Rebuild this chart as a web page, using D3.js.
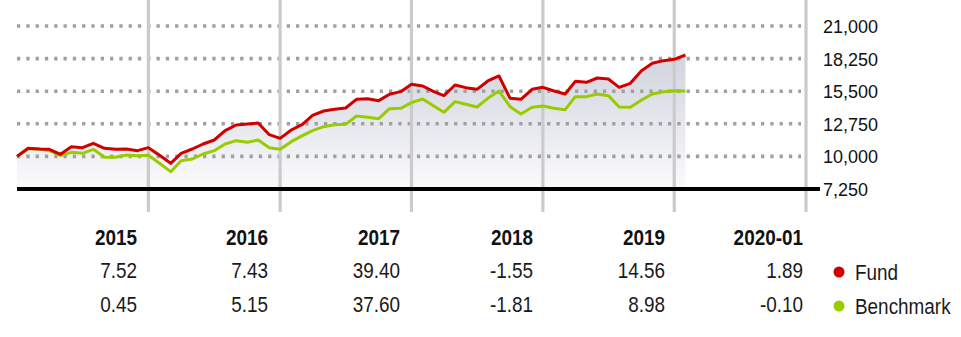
<!DOCTYPE html>
<html>
<head>
<meta charset="utf-8">
<script src="https://cdn.jsdelivr.net/npm/d3@7"></script>
<style>
  html, body { margin: 0; padding: 0; background: #fff; }
  svg { display: block; }
</style>
</head>
<body>
<svg id="chart" width="961" height="337"></svg>
<script>
// ---- data ----
const startYear = 2014, startMonth = 11; // Dec 2014, monthly points
const fundValues = [10000,10681,10624,10596,10175,10821,10737,11103,10681,10596,10624,10484,10737,
  10090,9415,10259,10624,11046,11384,12171,12649,12733,12818,11833,11524,
  12227,12705,13465,13830,13971,14083,14814,14870,14702,15236,15461,16080,
  15939,15461,15124,16023,15798,15658,16361,16783,14899,14814,15658,15827,
  15517,15264,16333,16249,16614,16530,15827,16164,17233,17851,18076,18189,18554];
const benchValues = [10000,10624,10624,10484,10062,10343,10259,10596,9921,9921,10118,10062,10090,
  9415,8712,9640,9781,10203,10484,11046,11327,11187,11384,10737,10596,
  11243,11749,12171,12508,12677,12705,13408,13296,13183,14027,14055,14533,
  14842,14252,13718,14617,14393,14168,14899,15517,14195,13577,14140,14252,
  14055,13942,15039,15039,15264,15124,14168,14140,14758,15264,15461,15545,15517];
const yTicks = [7250, 10000, 12750, 15500, 18250, 21000];
const gridYears = [2015, 2016, 2017, 2018, 2019, 2020];
const tableYears = ["2015", "2016", "2017", "2018", "2019", "2020-01"];
const fundReturns = ["7.52", "7.43", "39.40", "-1.55", "14.56", "1.89"];
const benchReturns = ["0.45", "5.15", "37.60", "-1.81", "8.98", "-0.10"];
const seriesNames = ["Fund", "Benchmark"];
const seriesColors = ["#d00000", "#99cc00"];

// ---- layout ----
const plotLeft = 17, plotRight = 806, plotTop = 26, plotBottom = 189;
const colRight = [137, 268, 400, 533, 665, 803];
const sans = "'Liberation Sans', Arial, sans-serif";
const narrowScale = 0.86;

const svg = d3.select("#chart");
const dates = fundValues.map((_, i) => new Date(startYear, startMonth + i, 1));
const x = d3.scaleTime()
  .domain([new Date(startYear, startMonth, 1), new Date(2020, 11, 1)])
  .range([plotLeft, plotRight]);
const y = d3.scaleLinear().domain([7250, 21000]).range([plotBottom, plotTop]);

// gradient
const defs = svg.append("defs");
const grad = defs.append("linearGradient").attr("id", "areaGrad")
  .attr("gradientUnits", "userSpaceOnUse")
  .attr("x1", 0).attr("x2", 0).attr("y1", 50).attr("y2", plotBottom);
grad.append("stop").attr("offset", 0).attr("stop-color", "#cfd2dd");
grad.append("stop").attr("offset", 1).attr("stop-color", "#fbfbfc");

// area under fund
const area = d3.area()
  .x((d, i) => x(dates[i]))
  .y0(y(7250))
  .y1(d => y(d));
svg.append("path").datum(fundValues)
  .attr("d", area).attr("fill", "url(#areaGrad)");

// horizontal dotted grid
svg.append("g").selectAll("line")
  .data(yTicks.slice(1))
  .join("line")
  .attr("x1", plotLeft).attr("x2", 801)
  .attr("y1", d => y(d)).attr("y2", d => y(d))
  .attr("stroke", "#a0a0a0").attr("stroke-width", 3.6)
  .attr("stroke-dasharray", "3.3,6");

// vertical year grid
svg.append("g").selectAll("line")
  .data(gridYears)
  .join("line")
  .attr("x1", d => x(new Date(d, 11, 1))).attr("x2", d => x(new Date(d, 11, 1)))
  .attr("y1", 0).attr("y2", 212)
  .attr("stroke", "#cbcbcb").attr("stroke-width", 3.2);

// baseline
svg.append("line")
  .attr("x1", plotLeft).attr("x2", 820)
  .attr("y1", y(7250)).attr("y2", y(7250))
  .attr("stroke", "#000").attr("stroke-width", 4);

// y labels
svg.append("g").selectAll("text")
  .data(yTicks)
  .join("text")
  .attr("x", 823).attr("y", d => y(d) + 7)
  .attr("font-family", sans)
  .attr("font-size", 18).attr("fill", "#111")
  .text(d => d3.format(",")(d));

// lines
const line = d3.line().x((d, i) => x(dates[i])).y(d => y(d));
[benchValues, fundValues].forEach((vals, k) => {
  svg.append("path").datum(vals)
    .attr("d", line).attr("fill", "none")
    .attr("stroke", k === 0 ? seriesColors[1] : seriesColors[0])
    .attr("stroke-width", 3).attr("stroke-linejoin", "round");
});

// table (narrow text emulated by horizontal scaling)
function narrowText(sel, xPos, yPos) {
  return sel.attr("transform", (d, i) => `translate(${xPos(d, i)},${yPos}) scale(${narrowScale},1)`);
}
const tbl = svg.append("g").attr("font-family", sans).attr("font-size", 22).attr("text-anchor", "end");
narrowText(tbl.selectAll("text.yr").data(tableYears).join("text").attr("class", "yr"),
  (d, i) => colRight[i], 245)
  .attr("font-weight", "bold").attr("fill", "#111").text(d => d);
narrowText(tbl.selectAll("text.fr").data(fundReturns).join("text").attr("class", "fr"),
  (d, i) => colRight[i], 278)
  .attr("fill", "#1a1a1a").text(d => d);
narrowText(tbl.selectAll("text.br").data(benchReturns).join("text").attr("class", "br"),
  (d, i) => colRight[i], 312)
  .attr("fill", "#1a1a1a").text(d => d);

// legend
const leg = svg.append("g").selectAll("g").data(seriesNames).join("g")
  .attr("transform", (d, i) => `translate(0, ${i === 0 ? 272 : 306})`);
leg.append("circle").attr("cx", 839).attr("cy", 0).attr("r", 5.5)
  .attr("fill", (d, i) => seriesColors[i]);
leg.append("text")
  .attr("transform", `translate(855,7.5) scale(${narrowScale},1)`)
  .attr("font-family", sans).attr("font-size", 22).attr("fill", "#1a1a1a")
  .text(d => d);
</script>
</body>
</html>
